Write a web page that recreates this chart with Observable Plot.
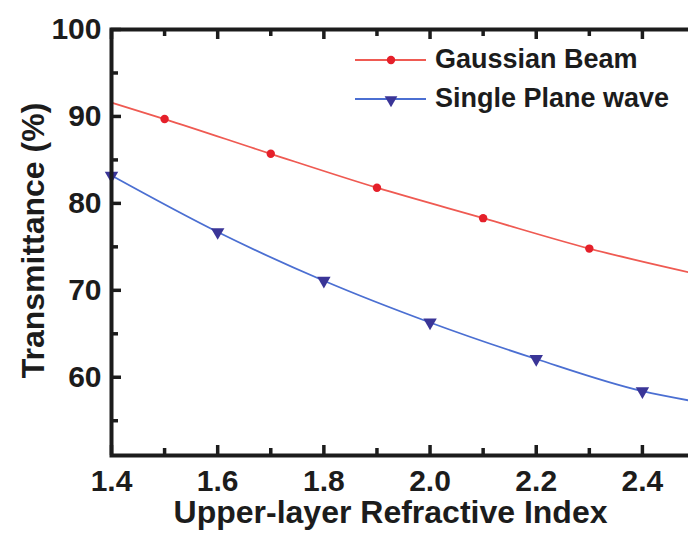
<!DOCTYPE html>
<html>
<head>
<meta charset="utf-8">
<script src="https://cdn.jsdelivr.net/npm/d3@7"></script>
<script src="https://cdn.jsdelivr.net/npm/@observablehq/plot@0.6"></script>
<style>
  html, body { margin: 0; padding: 0; background: #fff; }
  #wrap { position: relative; width: 688px; height: 540px; overflow: hidden; font-family: "Liberation Sans", Arial, sans-serif; }
  #legend { position: absolute; left: 353px; top: 40px; font-weight: bold; font-size: 27px; color: #1c1c1c; }
  .row { display: flex; align-items: center; height: 39px; }
  .row svg { display: block; margin-right: 7px; }
</style>
</head>
<body>
<div id="wrap"><div id="chart"></div><div id="legend"></div></div>
<script>
// Data
const xGauss = [1.4, 1.5, 1.7, 1.9, 2.1, 2.3, 2.5];
const yGauss = [91.6, 89.7, 85.7, 81.8, 78.3, 74.8, 71.9];
const gaussMarkerX = [1.5, 1.7, 1.9, 2.1, 2.3];

const xPlane = [1.4, 1.6, 1.8, 2.0, 2.2, 2.4, 2.5];
const yPlane = [83.2, 76.7, 71.1, 66.3, 62.1, 58.4, 57.2];
const planeMarkerX = [1.4, 1.6, 1.8, 2.0, 2.2, 2.4];

const seriesNames = ["Gaussian Beam", "Single Plane wave"];
const xMajor = [1.4, 1.6, 1.8, 2.0, 2.2, 2.4];
const xMinor = [1.5, 1.7, 1.9, 2.1, 2.3, 2.5];
const yMajor = [60, 70, 80, 90, 100];
const yMinor = [55, 65, 75, 85, 95];
const xTitle = "Upper-layer Refractive Index";
const yTitle = "Transmittance (%)";

const redLine = "#ef5a52", redDot = "#e5202a";
const blueLine = "#4b6fd2", blueDot = "#3a3597";
const ink = "#1c1c1c";

const W = 688, H = 540, mL = 111, mR = -7, mT = 29, mB = 85;
const frameW = W - mL - mR, frameH = H - mT - mB;
const major = 10, minor = 7;

const gauss = xGauss.map((x, i) => ({x, y: yGauss[i]}));
const plane = xPlane.map((x, i) => ({x, y: yPlane[i]}));
const gaussM = gauss.filter(d => gaussMarkerX.includes(d.x));
const planeM = plane.filter(d => planeMarkerX.includes(d.x));

const tickStyle = {stroke: ink, strokeWidth: 3.5};

const chart = Plot.plot({
  width: W,
  height: H,
  marginLeft: mL,
  marginRight: mR,
  marginTop: mT,
  marginBottom: mB,
  style: {fontFamily: "'Liberation Sans', Arial, sans-serif", fontWeight: "bold", color: ink, background: "#fff"},
  x: {domain: [1.4, 2.5]},
  y: {domain: [51, 100]},
  marks: [
    Plot.line(gauss, {x: "x", y: "y", stroke: redLine, strokeWidth: 1.8, curve: "monotone-x"}),
    Plot.line(plane, {x: "x", y: "y", stroke: blueLine, strokeWidth: 1.8, curve: "monotone-x"}),
    Plot.dot(gaussM, {x: "x", y: "y", r: 4.2, fill: redDot, stroke: "none"}),
    Plot.dot(planeM, {x: "x", y: "y", r: 5, symbol: "triangle", rotate: 180, fill: blueDot, stroke: "none"}),
    Plot.frame({stroke: ink, strokeWidth: 4}),
    // inward ticks (bottom, top, left)
    Plot.ruleX(xMajor, {x: d => d, insetTop: frameH - major, ...tickStyle}),
    Plot.ruleX(xMinor, {x: d => d, insetTop: frameH - minor, ...tickStyle}),
    Plot.ruleX(xMajor, {x: d => d, insetBottom: frameH - major, ...tickStyle}),
    Plot.ruleX(xMinor, {x: d => d, insetBottom: frameH - minor, ...tickStyle}),
    Plot.ruleY(yMajor, {y: d => d, insetRight: frameW - major, ...tickStyle}),
    Plot.ruleY(yMinor, {y: d => d, insetRight: frameW - minor, ...tickStyle}),
    // tick labels
    Plot.axisX(xMajor, {anchor: "bottom", tickSize: 0, tickPadding: 14, tickFormat: d3.format(".1f"), fontSize: 30, fill: ink, label: null}),
    Plot.axisY(yMajor, {anchor: "left", tickSize: 0, tickPadding: 10, tickFormat: d3.format("d"), fontSize: 30, fill: ink, label: null}),
    // axis titles
    Plot.text([xTitle], {frameAnchor: "bottom", dx: -13, dy: 57, fontSize: 32, fill: ink, lineAnchor: "middle", textAnchor: "middle"}),
    Plot.text([yTitle], {frameAnchor: "left", rotate: -90, dx: -78, dy: -2, fontSize: 32, fill: ink, lineAnchor: "middle", textAnchor: "middle"})
  ]
});
document.getElementById("chart").appendChild(chart);

// Legend (HTML overlay inside the plot area)
const legend = d3.select("#legend");
const entries = [
  {name: seriesNames[0], line: redLine, dot: redDot, shape: "circle"},
  {name: seriesNames[1], line: blueLine, dot: blueDot, shape: "triangle"}
];
entries.forEach(e => {
  const row = legend.append("div").attr("class", "row");
  const s = row.append("svg").attr("width", 75).attr("height", 20);
  s.append("line").attr("x1", 2).attr("x2", 73).attr("y1", 10).attr("y2", 10).attr("stroke", e.line).attr("stroke-width", 1.8);
  if (e.shape === "circle") {
    s.append("circle").attr("cx", 38).attr("cy", 10).attr("r", 4.2).attr("fill", e.dot);
  } else {
    s.append("path").attr("d", d3.symbol(d3.symbolTriangle, 70)()).attr("transform", "translate(38,11) rotate(180)").attr("fill", e.dot);
  }
  row.append("span").text(e.name);
});
</script>
</body>
</html>
